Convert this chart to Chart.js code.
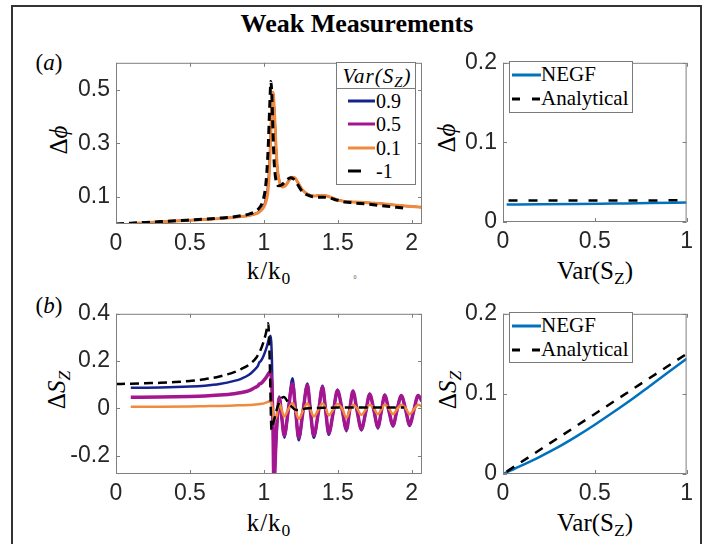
<!DOCTYPE html>
<html>
<head>
<meta charset="utf-8">
<script src="https://cdn.jsdelivr.net/npm/chart.js@4.4.1/dist/chart.umd.min.js"></script>
<style>
  body { margin: 0; background: #fff; }
  #fig { position: relative; width: 709px; height: 544px; overflow: hidden; background: #fff;
         font-family: 'Liberation Serif', 'DejaVu Serif', serif; color: #000; }
  #frame { position: absolute; left: 11px; top: 5px; width: 687px; height: 600px; border: 2px solid #333; }
  canvas { position: absolute; }
  .t { position: absolute; transform: translate(-50%, -50%); white-space: nowrap; line-height: 1; }
  .rot { transform: translate(-50%, -50%) rotate(-90deg); }
  .sub { font-size: 0.7em; position: relative; top: 0.3em; }
  .leg { position: absolute; background: #fff; border: 1px solid #7a7a7a; box-sizing: border-box; }
  .leg .row { position: absolute; left: 0; height: 0; white-space: nowrap; }
  .leg svg { position: absolute; top: -4px; }
  .leg .lab { position: absolute; top: 0; transform: translateY(-52%); line-height: 1; }
</style>
</head>
<body>
<div id="fig">
  <div id="frame"></div>
  <div class="t" style="left:357px;top:24px;font-size:26px;font-weight:bold;">Weak Measurements</div>

  <div class="t" style="left:49px;top:62px;font-size:23px;">(<i>a</i>)</div>
  <div class="t" style="left:49px;top:305px;font-size:23px;">(<i>b</i>)</div>

  <div class="t" style="left:269px;top:270px;font-size:25px;letter-spacing:1px;">k/k<span class="sub">0</span></div>
  <div class="t" style="left:269px;top:522px;font-size:25px;letter-spacing:1px;">k/k<span class="sub">0</span></div>
  <div class="t" style="left:595px;top:270px;font-size:25px;">Var(S<span class="sub">Z</span>)</div>
  <div class="t" style="left:595px;top:522px;font-size:25px;">Var(S<span class="sub">Z</span>)</div>

  <div class="t rot" style="left:58px;top:140px;font-size:25px;">Δ<i>ϕ</i></div>
  <div class="t rot" style="left:446px;top:138px;font-size:25px;">Δ<i>ϕ</i></div>
  <div class="t rot" style="left:56px;top:390px;font-size:25px;">Δ<i>S</i><span class="sub"><i>Z</i></span></div>
  <div class="t rot" style="left:447px;top:390px;font-size:25px;">Δ<i>S</i><span class="sub"><i>Z</i></span></div>

  <div class="t" style="left:355px;top:277px;font-size:6px;color:#555;">0</div>

  <canvas id="phiK"></canvas>
  <canvas id="phiVar"></canvas>
  <canvas id="szK"></canvas>
  <canvas id="szVar"></canvas>

  <div class="leg" id="legPhiK" style="left:336px;top:62px;width:80px;height:123px;">
    <div class="t" style="left:40px;top:13px;font-size:21px;font-style:italic;letter-spacing:1px;">Var(S<span class="sub">Z</span>)</div>
    <div style="position:absolute;left:0;right:0;top:25px;border-top:1px solid #7a7a7a;"></div>
  </div>
  <div class="leg" id="legPhiVar" style="left:509px;top:61px;width:124px;height:52px;"></div>
  <div class="leg" id="legSzVar" style="left:509px;top:312px;width:124px;height:51px;"></div>
</div>

<script>
// ---- data ----
// (a) left: delta phi vs k/k0
const kPhi = [0.1, 0.2, 0.3, 0.4, 0.5, 0.6, 0.7, 0.8, 0.85, 0.9,
              0.94, 0.97, 0.99, 1.01, 1.025, 1.035, 1.045, 1.055, 1.06, 1.065,
              1.075, 1.085, 1.095, 1.11, 1.13, 1.15, 1.17, 1.19, 1.21, 1.23,
              1.26, 1.3, 1.34, 1.38, 1.42, 1.46, 1.5, 1.55, 1.6, 1.7,
              1.8, 1.9, 2.0, 2.07];
const phi09 = [0.002, 0.005, 0.008, 0.011, 0.014, 0.017, 0.02, 0.025, 0.028, 0.032,
               0.038, 0.047, 0.058, 0.085, 0.13, 0.2, 0.33, 0.46, 0.49, 0.475,
               0.38, 0.26, 0.19, 0.15, 0.138, 0.145, 0.162, 0.174, 0.172, 0.155,
               0.128, 0.11, 0.104, 0.106, 0.105, 0.098, 0.09, 0.084, 0.082, 0.079,
               0.075, 0.07, 0.065, 0.062];
const phi05 = [0.002, 0.005, 0.008, 0.011, 0.014, 0.017, 0.02, 0.025, 0.028, 0.032,
               0.037, 0.046, 0.056, 0.078, 0.12, 0.18, 0.31, 0.455, 0.49, 0.478,
               0.38, 0.26, 0.19, 0.15, 0.138, 0.145, 0.162, 0.174, 0.172, 0.155,
               0.128, 0.11, 0.104, 0.106, 0.105, 0.098, 0.09, 0.084, 0.082, 0.079,
               0.075, 0.07, 0.065, 0.062];
const phi01 = [0.002, 0.005, 0.008, 0.011, 0.014, 0.017, 0.02, 0.025, 0.028, 0.032,
               0.037, 0.045, 0.055, 0.075, 0.11, 0.17, 0.3, 0.45, 0.49, 0.48,
               0.38, 0.26, 0.19, 0.15, 0.138, 0.145, 0.162, 0.174, 0.172, 0.155,
               0.128, 0.11, 0.104, 0.106, 0.105, 0.098, 0.09, 0.084, 0.082, 0.079,
               0.075, 0.07, 0.065, 0.062];
const kPhiAna = [0, 0.1, 0.2, 0.3, 0.4, 0.5, 0.6, 0.7, 0.8, 0.85,
                 0.9, 0.94, 0.97, 0.99, 1.01, 1.02, 1.03, 1.04, 1.048, 1.055,
                 1.062, 1.07, 1.08, 1.09, 1.1, 1.12, 1.14, 1.16, 1.18, 1.2,
                 1.22, 1.25, 1.28, 1.32, 1.36, 1.4, 1.44, 1.5, 1.55, 1.6,
                 1.7, 1.8, 1.9, 1.97];
const phiAna = [0, 0.003, 0.006, 0.009, 0.012, 0.015, 0.018, 0.022, 0.027, 0.031,
                0.037, 0.046, 0.06, 0.08, 0.13, 0.19, 0.29, 0.44, 0.53, 0.47,
                0.34, 0.23, 0.17, 0.148, 0.142, 0.145, 0.155, 0.166, 0.172, 0.168,
                0.155, 0.128, 0.112, 0.103, 0.1, 0.1, 0.097, 0.088, 0.082, 0.079,
                0.074, 0.068, 0.062, 0.058];

// (a) right: delta phi vs Var(Sz)
const varPhiNegf = [0.02, 0.2, 0.4, 0.6, 0.8, 1.0];
const phiNegfVar = [0.022, 0.0222, 0.0226, 0.0232, 0.0238, 0.0245];
const varPhiAna = [0.03, 0.25, 0.5, 0.75, 1.0];
const phiAnaVar = [0.027, 0.027, 0.027, 0.027, 0.0275];

// (b) left: delta Sz vs k/k0
const kSz = [0.1, 0.3, 0.5, 0.6, 0.7, 0.8, 0.85, 0.9, 0.94, 0.96,
             0.97, 0.98, 1.0, 1.02, 1.035, 1.045, 1.055, 1.062, 1.068,
             1.085, 1.105, 1.12, 1.138, 1.165, 1.194, 1.215, 1.236, 1.265, 1.295,
             1.315, 1.338, 1.37, 1.397, 1.418, 1.439, 1.47, 1.498, 1.53, 1.559,
             1.58, 1.603, 1.63, 1.66, 1.69, 1.716, 1.745, 1.772, 1.795, 1.818,
             1.845, 1.874, 1.9, 1.93, 1.96, 1.986, 2.015, 2.043, 2.07];
const sz09 = [0.087, 0.088, 0.092, 0.096, 0.103, 0.116, 0.126, 0.142, 0.165, 0.18,
              0.195, 0.2, 0.225, 0.26, 0.295, 0.307, 0.2, -0.05, -0.32,
              -0.12, 0.05, -0.03, -0.125, -0.01, 0.127, -0.01, -0.135, -0.013, 0.105,
              -0.01, -0.125, -0.012, 0.095, -0.008, -0.112, -0.015, 0.08, -0.007, -0.097,
              -0.01, 0.075, -0.008, -0.094, -0.014, 0.063, -0.01, -0.086, -0.012, 0.058,
              -0.008, -0.078, -0.01, 0.056, -0.008, -0.075, -0.008, 0.056, 0.032];
const sz05 = [0.047, 0.048, 0.05, 0.052, 0.056, 0.062, 0.067, 0.075, 0.088, 0.095,
              0.103, 0.105, 0.118, 0.135, 0.15, 0.155, 0.08, -0.08, -0.32,
              -0.1, 0.045, -0.03, -0.115, -0.01, 0.105, -0.01, -0.125, -0.013, 0.098,
              -0.01, -0.115, -0.012, 0.09, -0.008, -0.105, -0.015, 0.075, -0.007, -0.09,
              -0.01, 0.072, -0.008, -0.088, -0.014, 0.06, -0.01, -0.08, -0.012, 0.055,
              -0.008, -0.072, -0.01, 0.053, -0.008, -0.07, -0.008, 0.053, 0.03];
const sz01 = [0.007, 0.007, 0.008, 0.009, 0.01, 0.012, 0.013, 0.014, 0.016, 0.017,
              0.018, 0.019, 0.021, 0.025, 0.029, 0.03, 0.02, -0.02, -0.05,
              -0.035, 0.02, -0.005, -0.035, -0.005, 0.022, -0.01, -0.045, -0.01, 0.02,
              -0.005, -0.035, -0.005, 0.02, 0.0, -0.03, -0.005, 0.018, -0.002, -0.04,
              -0.01, 0.015, 0.0, -0.028, -0.005, 0.015, 0.0, -0.025, -0.005, 0.015,
              0.0, -0.025, -0.005, 0.015, 0.0, -0.025, -0.005, 0.015, 0.008];
const kSzAna = [0, 0.1, 0.2, 0.3, 0.4, 0.5, 0.6, 0.7, 0.8, 0.85,
                0.9, 0.95, 0.98, 1.0, 1.015, 1.03, 1.04, 1.052, 1.065, 1.09,
                1.115, 1.135, 1.17, 1.22, 1.3, 1.4, 1.5, 1.6, 1.7, 1.8, 1.95];
const szAna = [0.103, 0.104, 0.106, 0.108, 0.111, 0.116, 0.123, 0.135, 0.153, 0.167,
               0.185, 0.215, 0.25, 0.285, 0.32, 0.36, 0.2, -0.09, -0.06, 0.0,
               0.04, 0.048, 0.02, -0.007, 0.0, 0.002, 0.003, 0.003, 0.003, 0.003, 0.003];

// (b) right: delta Sz vs Var(Sz)
const varSzNegf = [0, 0.1, 0.2, 0.3, 0.4, 0.5, 0.6, 0.7, 0.8, 0.9, 1.0];
const szNegfVar = [0, 0.0105, 0.0215, 0.0335, 0.047, 0.0615, 0.077, 0.093, 0.11, 0.127, 0.144];
const varSzAna = [0.02, 0.25, 0.5, 0.75, 1.0];
const szAnaVar = [0.003, 0.0375, 0.075, 0.1125, 0.15];

// ticks and legend labels
const kTicks = [0, 0.5, 1, 1.5, 2];
const varTicks = [0, 0.5, 1];
const phiKTicks = [0.1, 0.3, 0.5];
const phiVarTicks = [0, 0.1, 0.2];
const szKTicks = [-0.2, 0, 0.2, 0.4];
const szVarTicks = [0, 0.1, 0.2];
const varLabels = ['0.9', '0.5', '0.1', '-1'];
const methodLabels = ['NEGF', 'Analytical'];

const C_BLUE = '#16238f', C_MAG = '#a4168f', C_ORANGE = '#f08a3c', C_NEGF = '#0072bd';

function pts(xs, ys) {
    return xs.map((x, i) => ({ x: x, y: ys[i] }));
}

// box + inward ticks like the original figure
const boxTicks = {
    id: 'boxTicks',
    afterDatasetsDraw(chart) {
        const { ctx, chartArea: a, scales } = chart;
        ctx.save();
        ctx.strokeStyle = '#7f7f7f';
        ctx.lineWidth = 1;
        ctx.strokeRect(a.left + 0.5, a.top + 0.5, a.right - a.left - 1, a.bottom - a.top - 1);
        ctx.beginPath();
        scales.x.ticks.forEach(t => {
            const p = Math.round(scales.x.getPixelForValue(t.value)) + 0.5;
            ctx.moveTo(p, a.bottom); ctx.lineTo(p, a.bottom - 4);
            ctx.moveTo(p, a.top); ctx.lineTo(p, a.top + 4);
        });
        scales.y.ticks.forEach(t => {
            const p = Math.round(scales.y.getPixelForValue(t.value)) + 0.5;
            ctx.moveTo(a.left, p); ctx.lineTo(a.left + 4, p);
            ctx.moveTo(a.right, p); ctx.lineTo(a.right - 4, p);
        });
        ctx.stroke();
        ctx.restore();
    }
};

function axis(min, max, tickVals, isX) {
    return {
        type: 'linear', min: min, max: max,
        grid: { display: false, drawTicks: false },
        border: { display: false },
        afterBuildTicks: s => { s.ticks = tickVals.map(v => ({ value: v })); },
        afterFit: s => { if (isX) s.height = 40; else s.width = 60; },
        ticks: {
            color: '#262626', padding: isX ? 6 : 6, autoSkip: false, maxRotation: 0,
            font: { family: 'Liberation Sans', size: 23 },
            callback: v => String(v)
        }
    };
}

function makeChart(id, rect, xr, yr, datasets) {
    const cv = document.getElementById(id);
    cv.width = rect.r - rect.l + 72;
    cv.height = rect.b - rect.t + 52;
    cv.style.left = (rect.l - 60) + 'px';
    cv.style.top = (rect.t - 12) + 'px';
    return new Chart(cv.getContext('2d'), {
        type: 'line',
        data: { datasets: datasets },
        options: {
            responsive: false,
            animation: false,
            layout: { padding: { top: 12, right: 12, left: 0, bottom: 0 }, autoPadding: false },
            plugins: { legend: { display: false }, tooltip: { enabled: false } },
            elements: { point: { radius: 0 }, line: { cubicInterpolationMode: 'monotone' } },
            scales: { x: axis(xr[0], xr[1], xr[2], true), y: axis(yr[0], yr[1], yr[2], false) }
        },
        plugins: [boxTicks]
    });
}

function line(label, data, color, width, dash, order) {
    return { label: label, data: data, borderColor: color, borderWidth: width,
             borderDash: dash || [], order: order, fill: false };
}

const phiKChart = makeChart('phiK', { l: 116, t: 55, r: 422, b: 224 }, [0, 2.07, kTicks], [0, 0.6, phiKTicks], [
    line(varLabels[0], pts(kPhi, phi09), C_BLUE, 2, null, 3),
    line(varLabels[1], pts(kPhi, phi05), C_MAG, 2, null, 2),
    line(varLabels[2], pts(kPhi, phi01), C_ORANGE, 3, null, 1),
    line(varLabels[3], pts(kPhiAna, phiAna), '#000', 3, [8, 5], 0)
]);

const phiVarChart = makeChart('phiVar', { l: 503, t: 55, r: 687, b: 222 }, [0, 1, varTicks], [0, 0.2, phiVarTicks], [
    line(methodLabels[0], pts(varPhiNegf, phiNegfVar), C_NEGF, 2.5, null, 1),
    line(methodLabels[1], pts(varPhiAna, phiAnaVar), '#000', 2.5, [9, 11], 0)
]);

const szKChart = makeChart('szK', { l: 116, t: 306, r: 422, b: 474 }, [0, 2.07, kTicks], [-0.278, 0.4, szKTicks], [
    line(varLabels[0], pts(kSz, sz09), C_BLUE, 2.5, null, 3),
    line(varLabels[1], pts(kSz, sz05), C_MAG, 3.5, null, 2),
    line(varLabels[2], pts(kSz, sz01), C_ORANGE, 2.5, null, 1),
    line(varLabels[3], pts(kSzAna, szAna), '#000', 2.5, [9, 5], 0)
]);

const szVarChart = makeChart('szVar', { l: 503, t: 306, r: 687, b: 474 }, [0, 1, varTicks], [0, 0.2, szVarTicks], [
    line(methodLabels[0], pts(varSzNegf, szNegfVar), C_NEGF, 2.5, null, 1),
    line(methodLabels[1], pts(varSzAna, szAnaVar), '#000', 2.5, [9, 8], 0)
]);

// boxed legends built from the datasets
function buildLegend(boxId, chart, rows, sample, textX, fontSize, dashes) {
    const box = document.getElementById(boxId);
    chart.data.datasets.forEach((ds, i) => {
        const row = document.createElement('div');
        row.className = 'row';
        row.style.top = rows[i] + 'px';
        const dash = dashes[i] ? ' stroke-dasharray="' + dashes[i] + '"' : '';
        row.innerHTML =
            '<svg width="' + (sample[1]) + '" height="8" style="left:0">' +
            '<line x1="' + sample[0] + '" y1="4" x2="' + sample[1] + '" y2="4" stroke="' + ds.borderColor +
            '" stroke-width="3"' + dash + '/></svg>' +
            '<span class="lab" style="left:' + textX + 'px;font-size:' + fontSize + 'px;">' + ds.label + '</span>';
        box.appendChild(row);
    });
}

buildLegend('legPhiK', phiKChart, [38, 61, 85, 108], [11, 38], 39, 20, [null, null, null, '13 20']);
buildLegend('legPhiVar', phiVarChart, [13, 37], [2, 31], 31, 21, [null, '8 12']);
buildLegend('legSzVar', szVarChart, [13, 37], [2, 31], 31, 21, [null, '8 12']);
</script>
</body>
</html>
